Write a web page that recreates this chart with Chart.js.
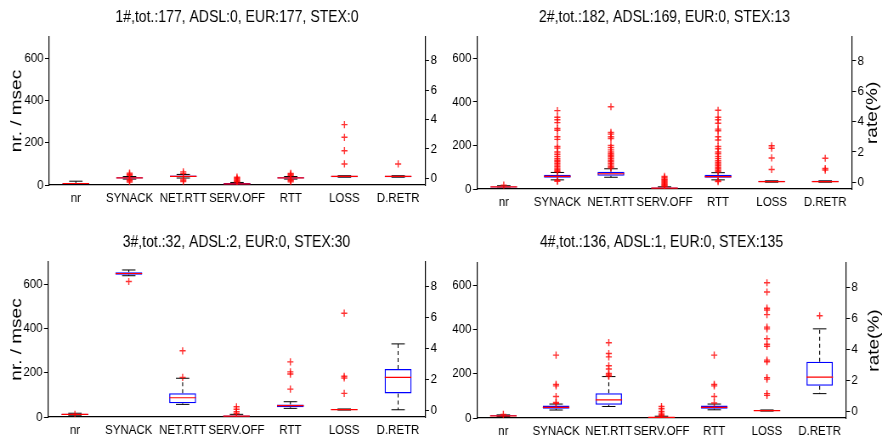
<!DOCTYPE html>
<html>
<head>
<meta charset="utf-8">
<script src="https://cdn.jsdelivr.net/npm/chart.js@4.4.1/dist/chart.umd.min.js"></script>
<style>
body { margin: 0; background: #fff; }
#wrap { position: relative; width: 882px; height: 442px; overflow: hidden; }
canvas { position: absolute; transform-origin: 0 0; }
</style>
</head>
<body>
<div id="wrap">
  <canvas id="c1" style="left:0;top:0"></canvas>
  <canvas id="c2" style="left:441px;top:0"></canvas>
  <canvas id="c3" style="left:0;top:221px"></canvas>
  <canvas id="c4" style="left:441px;top:221px"></canvas>
</div>
<script>
'use strict';

const labels = ['nr', 'SYNACK', 'NET.RTT', 'SERV.OFF', 'RTT', 'LOSS', 'D.RETR'];
// LOSS and D.RETR are rates (%), they go on the right axis
const onRate = [false, false, false, false, false, true, true];
const msecTicks = [0, 200, 400, 600];
const rateTicks = [0, 2, 4, 6, 8];

const titles = [
    '1#,tot.:177, ADSL:0, EUR:177, STEX:0',
    '2#,tot.:182, ADSL:169, EUR:0, STEX:13',
    '3#,tot.:32, ADSL:2, EUR:0, STEX:30',
    '4#,tot.:136, ADSL:1, EUR:0, STEX:135'
];

// 1#
const p1Lo  = [2, 28, 33, 0, 28, 0.08, 0.08];
const p1Q1  = [4, 31, 38, 2, 31, 0.08, 0.08];
const p1Med = [7, 34, 41, 5, 34, 0.13, 0.13];
const p1Q3  = [10, 37, 45, 9, 37, 0.18, 0.18];
const p1Hi  = [18, 40, 50, 12, 40, 0.18, 0.18];
const p1Out = [[], [14, 20, 25, 46, 51, 56], [16, 22, 28, 55, 62], [14, 18, 22, 27, 32, 37],
    [15, 20, 25, 45, 50, 55], [0.98, 1.88, 2.79, 3.65], [0.98]];

// 2#
const p2Lo  = [4, 42, 54, 0, 42, 0, 0];
const p2Q1  = [7, 52, 61, 2, 52, 0, 0];
const p2Med = [10, 58, 70, 4, 57, 0.04, 0.04];
const p2Q3  = [12, 66, 79, 7, 65, 0.09, 0.09];
const p2Hi  = [15, 76, 93, 10, 75, 0.09, 0.09];
const p2Out = [
    [18],
    [35, 40, 80, 84, 90, 96, 103, 110, 118, 125, 132, 140, 150, 160, 170, 188, 195, 228, 240, 270, 278, 305, 318, 330, 360],
    [97, 102, 110, 118, 125, 132, 140, 148, 155, 162, 170, 180, 190, 200, 232, 240, 252, 260, 378],
    [12, 16, 20, 25, 30, 35, 40, 45, 52, 58],
    [34, 38, 80, 86, 93, 100, 108, 115, 122, 130, 140, 150, 162, 170, 185, 195, 225, 240, 268, 275, 302, 318, 330, 362],
    [0.84, 1.6, 2.24, 2.4],
    [0.8, 0.9, 1.58]
];

// 3#
const p3Lo  = [8, 638, 57, 0, 39, 0, 0.02];
const p3Q1  = [9, 642, 62, 2, 44, 0, 1.08];
const p3Med = [12, 648, 87, 4, 51, 0.03, 2.12];
const p3Q3  = [15, 654, 107, 7, 57, 0.07, 2.66];
const p3Hi  = [17, 664, 175, 12, 69, 0.07, 4.29];
const p3Out = [[12], [612], [179, 299], [16, 24, 35, 46], [126, 194, 204, 249], [1.08, 2.08, 2.19, 6.28], []];

// 4#
const p4Lo  = [6, 36, 52, 0, 37, 0, 1.13];
const p4Q1  = [8, 42, 60, 1, 42, 0, 1.64];
const p4Med = [10, 48, 82, 3, 48, 0.03, 2.2];
const p4Q3  = [12, 56, 112, 5, 56, 0.07, 3.2];
const p4Hi  = [14, 63, 187, 8, 63, 0.07, 5.33];
const p4Out = [[16], [66, 70, 97, 145, 152, 284], [189, 194, 201, 221, 236, 276, 291, 340], [10, 15, 22, 30, 42, 52],
    [68, 97, 145, 152, 284],
    [1.02, 1.13, 2.07, 2.17, 3.2, 3.3, 4.2, 4.33, 4.69, 5.33, 5.44, 6.25, 6.55, 6.67, 7.72, 8.32], [6.18]];

// the original figure is horizontally squeezed: draw wider, then scale x down
const K = 0.85;
const W = Math.round(441 / K);
const sx = v => v / K;

const sans = '"Liberation Sans", Arial, sans-serif';
const tickFont = { family: sans, size: 13.5 };

// builds the box plot pieces for one y axis
function boxSets(lo, q1, med, q3, hi, out, right) {
    const axis = right ? 'y1' : 'y';
    const box = labels.map((l, i) => onRate[i] === right ? [q1[i], q3[i]] : null);
    const mid = [], caps = [], whisk = [], pts = [];
    labels.forEach((l, i) => {
        if (onRate[i] !== right) return;
        mid.push({ x: l, y: med[i] });
        caps.push({ x: l, y: lo[i] }, { x: l, y: hi[i] });
        whisk.push({ x: l, y: q3[i] }, { x: l, y: hi[i] }, { x: l, y: null },
                   { x: l, y: q1[i] }, { x: l, y: lo[i] }, { x: l, y: null });
        out[i].forEach(v => pts.push({ x: l, y: v }));
    });
    return [
        { type: 'line', data: pts, yAxisID: axis, showLine: false, pointStyle: 'cross',
          pointRadius: 3.6, pointBorderColor: 'rgba(255,0,0,0.8)', pointBorderWidth: 1.4, order: 0 },
        { type: 'line', data: mid, yAxisID: axis, showLine: false, pointStyle: 'line',
          pointRadius: sx(13.3), pointBorderColor: '#ff0000', pointBorderWidth: 1.2, order: 1 },
        { type: 'bar', data: box, yAxisID: axis, backgroundColor: 'rgba(0,0,0,0)', borderColor: '#0000ff',
          borderWidth: 1.3, borderSkipped: false, grouped: false, barPercentage: 0.5, categoryPercentage: 1, order: 2 },
        { type: 'line', data: caps, yAxisID: axis, showLine: false, pointStyle: 'line',
          pointRadius: sx(6.7), pointBorderColor: '#000', pointBorderWidth: 1, order: 3 },
        { type: 'line', data: whisk, yAxisID: axis, borderColor: '#000', borderWidth: 1.1,
          borderDash: [4, 3], pointRadius: 0, spanGaps: false, order: 4 }
    ];
}

const rateLabel = {
    id: 'rateLabel',
    afterDraw(chart, args, opts) {
        if (!opts.show) return;
        const { ctx, chartArea } = chart;
        ctx.save();
        ctx.translate(opts.x, (chartArea.top + chartArea.bottom) / 2);
        ctx.rotate(-Math.PI / 2);
        ctx.font = '19px ' + sans;
        ctx.fillStyle = '#000';
        ctx.textAlign = 'center';
        ctx.textBaseline = 'middle';
        ctx.fillText('rate(%)', 0, 0);
        ctx.restore();
    }
};

const panels = [
    { id: 'c1', title: titles[0], data: [p1Lo, p1Q1, p1Med, p1Q3, p1Hi, p1Out],
      lw: 49, rw: 16, xh: 36, tTop: 7.5, tBot: 9.7, msec: true, rate: false },
    { id: 'c2', title: titles[1], data: [p2Lo, p2Q1, p2Med, p2Q3, p2Hi, p2Out],
      lw: 36, rw: 30, xh: 32, tTop: 7.1, tBot: 9.8, msec: false, rate: true, rx: 432 },
    { id: 'c3', title: titles[2], data: [p3Lo, p3Q1, p3Med, p3Q3, p3Hi, p3Out],
      lw: 48, rw: 16, xh: 25, tTop: 11.1, tBot: 10.1, msec: true, rate: false },
    { id: 'c4', title: titles[3], data: [p4Lo, p4Q1, p4Med, p4Q3, p4Hi, p4Out],
      lw: 36, rw: 36, xh: 24, tTop: 11.1, tBot: 11.1, msec: false, rate: true, rx: 433 }
];

panels.forEach(p => {
    const cv = document.getElementById(p.id);
    cv.width = W;
    cv.height = 221;
    cv.style.transform = 'scaleX(' + (441 / W) + ')';
    const [lo, q1, med, q3, hi, out] = p.data;
    const datasets = boxSets(lo, q1, med, q3, hi, out, false)
        .concat(boxSets(lo, q1, med, q3, hi, out, true));
    new Chart(cv.getContext('2d'), {
        type: 'bar',
        data: { labels: labels, datasets: datasets },
        plugins: [rateLabel],
        options: {
            responsive: false,
            animation: false,
            events: [],
            layout: { padding: 0 },
            plugins: {
                legend: { display: false },
                tooltip: { enabled: false },
                title: {
                    display: true, text: p.title, color: '#000', fullSize: false,
                    font: { family: sans, size: 16.5, weight: 'normal', lineHeight: 1.2 },
                    padding: { top: p.tTop, bottom: p.tBot }
                },
                rateLabel: { show: p.rate, x: sx(p.rx || 0) }
            },
            scales: {
                x: {
                    type: 'category', offset: true,
                    grid: { display: false, drawTicks: false },
                    border: { color: '#000', width: 1.2 },
                    ticks: { color: '#000', font: tickFont, padding: 5, maxRotation: 0, autoSkip: false },
                    afterFit: s => { s.height = p.xh; }
                },
                y: {
                    position: 'left', min: 0, max: 700,
                    afterBuildTicks: s => { s.ticks = msecTicks.map(v => ({ value: v })); },
                    grid: { drawOnChartArea: false, tickLength: sx(4), color: '#000' },
                    border: { color: '#000', width: 1.2 },
                    ticks: { color: '#000', font: tickFont, padding: sx(1.5) },
                    title: {
                        display: p.msec, text: 'nr. / msec', color: '#000',
                        font: { family: sans, size: 19, lineHeight: 1 },
                        padding: { top: sx(16.7) - 9.5, bottom: 0 }
                    },
                    afterFit: s => { s.width = sx(p.lw); }
                },
                y1: {
                    position: 'right', min: -0.45, max: 9.6,
                    afterBuildTicks: s => { s.ticks = rateTicks.map(v => ({ value: v })); },
                    grid: { drawOnChartArea: false, tickLength: sx(4), color: '#000' },
                    border: { color: '#000', width: 1.2 },
                    ticks: { color: '#000', font: tickFont, padding: sx(1.5) },
                    afterFit: s => { s.width = sx(p.rw); }
                }
            }
        }
    });
});
</script>
</body>
</html>
